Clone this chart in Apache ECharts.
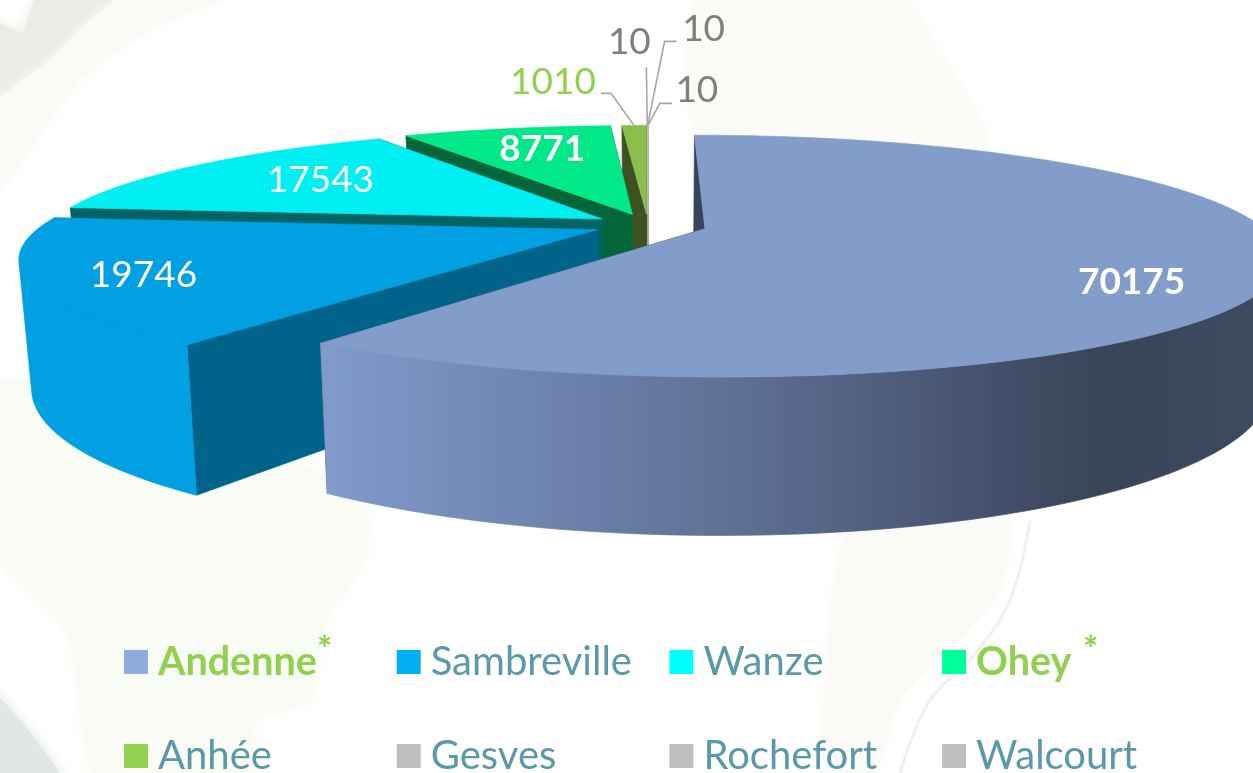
<!DOCTYPE html>
<html><head><meta charset="utf-8">
<style>html,body{margin:0;padding:0;background:#fff;overflow:hidden}#c{width:1253px;height:773px}</style>
<script src="https://cdn.jsdelivr.net/npm/echarts@6/dist/echarts.min.js"></script>
</head><body><div id="c"></div>
<script>
const categories = ['Andenne','Sambreville','Wanze','Ohey','Anhée','Gesves','Rochefort','Walcourt'];
const values = [70175,19746,17543,8771,1010,10,10,10];
const legendColors = ['#8faadc','#00b0f0','#00ffff','#00ff99','#92d050','#bfbfbf','#bfbfbf','#bfbfbf'];
const topColors = ['#829dca','#00a0e2','#00eff2','#00e887','#8abf4b','#bfbfbf','#bfbfbf','#bfbfbf'];
const innerColors = ['#37445c','#00648a','#006464','#04653a','#3e5220','#a0a0a0','#a0a0a0','#a0a0a0'];
const labelColors = ['#fff','#fff','#fff','#fff','#92d050','#7f7f7f','#7f7f7f','#7f7f7f'];
const labelBold = [true,false,false,true,false,false,false,false];
const explodes = [.107,.1,.1,.1,.1,.1,.1,.1];
// inside labels: [radius fraction, angle shift from mid-slice]
const insideLabels = {0:[.80,14],1:[.82,-2],2:[.68,1],3:[.727,1]};
// outside labels: text offset from rim point + leader path offsets
const outsideLabels = {
  4:{text:[-81,-43],path:[[-33,-32],[-23,-32],[0,0]]},
  5:{text:[-18,-83],path:[[-1,-58],[0,0]]},
  6:{text:[56,-96],path:[[29,-84],[17,-84],[0,0]]},
  7:{text:[49,-35],path:[[24,-22],[12,-22],[0,0]]}
};
const VIEW = {cx:648,cy:225,rx:555,ry:113,k:.225,depth:98,depthK:.25,farY:135,vx:660,xs:.98};
const total = values.reduce((a,b)=>a+b,0);
const starts=[];let acc=0;values.forEach(v=>{starts.push(acc/total*360);acc+=v;});
const rad=d=>d*Math.PI/180;
const proj=(u,v)=>{const w=1-VIEW.k*v;return [VIEW.cx+VIEW.rx*u/w,VIEW.cy+VIEW.ry*v/w];};
const drop=p=>[VIEW.vx+(p[0]-VIEW.vx)*VIEW.xs,p[1]+VIEW.depth+VIEW.depthK*(p[1]-VIEW.farY)];
function geom(i){
  const a0=starts[i],a1=a0+values[i]/total*360,mid=(a0+a1)/2;
  const ou=explodes[i]*Math.sin(rad(mid)),ov=-explodes[i]*Math.cos(rad(mid));
  const at=(th,r)=>proj(ou+r*Math.sin(rad(th)),ov-r*Math.cos(rad(th)));
  const rim=[];const n=Math.max(2,Math.ceil((a1-a0)/1.5));
  for(let j=0;j<=n;j++)rim.push(at(a0+(a1-a0)*j/n,1));
  return {a0,a1,mid,apex:at(0,0),rim,at};
}
function renderSlice(i){
  const g=geom(i),ch=[];
  const poly=(pts,fill)=>({type:'polygon',shape:{points:pts},style:{fill:fill,stroke:fill,lineWidth:.7},silent:true});
  const wall=(a,b,c)=>poly([a,b,drop(b),drop(a)],c);
  const grad=i===0?new echarts.graphic.LinearGradient(330,0,1253,0,[{offset:0,color:'#7f9acb'},{offset:.45,color:'#5d6f94'},{offset:.83,color:'#3a4459'},{offset:1,color:'#3d4a60'}],true):topColors[i];
  ch.push(wall(g.apex,g.rim[g.rim.length-1],innerColors[i]));
  ch.push(wall(g.apex,g.rim[0],innerColors[i]));
  const front=[];
  for(let j=0;j<g.rim.length-1;j++){
    const p=g.rim[j],q=g.rim[j+1],d=drop(p);
    const cross=(q[0]-p[0])*(d[1]-p[1])-(q[1]-p[1])*(d[0]-p[0]);
    if(cross<0){ if(!front.length)front.push(p); front.push(q); }
  }
  if(front.length)ch.push(poly(front.concat(front.map(drop).reverse()),grad));
  ch.push(poly([g.apex].concat(g.rim),topColors[i]));
  if(insideLabels[i]){
    const [r,s]=insideLabels[i],p=g.at(g.mid+s,r);
    ch.push({type:'text',x:p[0],y:p[1],style:{text:String(values[i]),fill:labelColors[i],font:(labelBold[i]?'bold ':'')+'37px Lato',align:'center',verticalAlign:'middle'},silent:true});
  }
  if(outsideLabels[i]){
    const rp=g.at(g.mid,1),o=outsideLabels[i];
    ch.push({type:'polyline',shape:{points:o.path.map(d=>[rp[0]+d[0],rp[1]+d[1]])},style:{fill:'none',stroke:'#a6a6a6',lineWidth:1.6},silent:true});
    ch.push({type:'text',x:rp[0]+o.text[0],y:rp[1]+o.text[1],style:{text:String(values[i]),fill:labelColors[i],font:'37px Lato',align:'center',verticalAlign:'middle'},silent:true});
  }
  return {type:'group',children:ch};
}
const bgShape=(pts,fill)=>({type:'polygon',z:0,shape:{points:pts,smooth:.2},style:{fill:fill,shadowBlur:14,shadowColor:fill},silent:true});
const chart=echarts.init(document.getElementById('c'),null,{renderer:'canvas'});
chart.setOption({
  animation:false,
  backgroundColor:'#ffffff',
  graphic:{elements:[
    bgShape([[0,380],[360,490],[365,560],[325,620],[310,700],[255,720],[250,790],[100,790],[70,640],[50,610],[0,560]],'#f9fbf5'),
    bgShape([[-10,690],[65,785],[-10,785]],'#e2e7e5'),
    bgShape([[40,-10],[22,32],[-10,20],[-10,110],[50,60],[90,20],[130,-10]],'#e9ede5'),
    bgShape([[130,-10],[50,60],[-10,110],[-10,200],[80,80],[150,30],[240,-10]],'#f9fbf7'),
    bgShape([[700,-10],[897,-10],[940,50],[987,145],[700,140]],'#fbfcf8'),
    bgShape([[853,520],[1007,520],[1000,590],[960,640],[900,700],[870,785],[825,785],[830,615]],'#fafbf6'),
    {type:'polyline',z:0,shape:{points:[[1030,520],[1010,600],[970,660],[930,700],[900,773]],smooth:.4},style:{fill:'none',stroke:'#eff0ef',lineWidth:3},silent:true}
  ]},
  legend:{
    left:124,top:632,width:1120,padding:0,itemWidth:24,itemHeight:24,itemGap:34,itemStyle:{borderWidth:0},
    selectedMode:false,icon:'rect',
    data:categories.map((n,i)=>({name:n,itemStyle:{color:legendColors[i]}})),
    formatter:n=>{
      if(n==='Andenne')return '{b|'+n+'}{s|*}';
      if(n==='Ohey')return '{o|'+n+'}{t|*}';
      return '{n|'+n+'}';
    },
    textStyle:{lineHeight:60,rich:{
      n:{fontFamily:'Lato',fontSize:40,color:'#5b98a8',width:204.7,padding:[0,0,0,5],lineHeight:60},
      b:{fontFamily:'Lato',fontWeight:'bold',fontSize:39.5,color:'#92d050',width:159,padding:[0,0,0,5],lineHeight:60},
      o:{fontFamily:'Lato',fontWeight:'bold',fontSize:39.5,color:'#92d050',width:107,padding:[0,0,0,5],lineHeight:60},
      s:{fontFamily:'Lato',fontWeight:'bold',fontSize:36,color:'#92d050',width:45.7,lineHeight:24,verticalAlign:'top'},
      t:{fontFamily:'Lato',fontWeight:'bold',fontSize:36,color:'#92d050',width:97.7,lineHeight:24,verticalAlign:'top'}
    }}
  },
  series:categories.map((name,i)=>({
    type:'custom',name,coordinateSystem:'none',z:10-i,
    itemStyle:{color:legendColors[i]},
    data:[[values[i]]],
    renderItem:()=>renderSlice(i)
  }))
});
</script></body></html>
